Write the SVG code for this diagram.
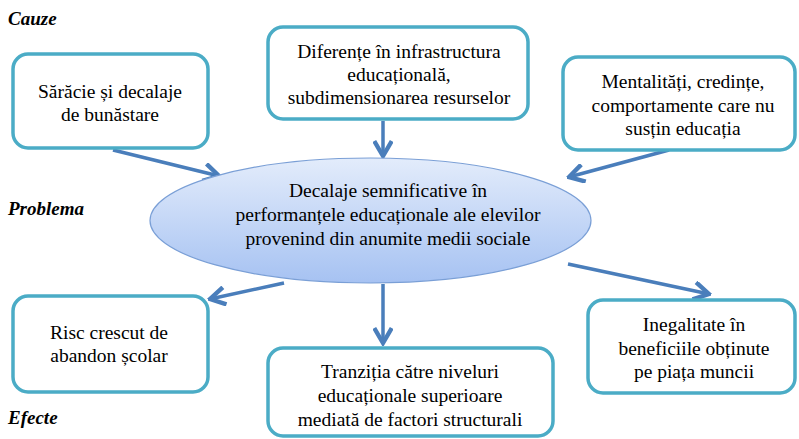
<svg xmlns="http://www.w3.org/2000/svg" width="799" height="439" viewBox="0 0 799 439" font-family="Liberation Serif, Times New Roman, Times, DejaVu Serif, serif">
<style>
.box{fill:#fff;stroke:#4bacc6;stroke-width:3.5}
.t{font-size:19.5px;fill:#000;text-anchor:middle}
.lab{font-size:19px;font-weight:bold;font-style:italic;fill:#000}
.con{stroke:#4a7ebb;stroke-width:3.5;fill:none;marker-end:url(#ah)}
</style>
<defs>
<marker id="ah" markerUnits="userSpaceOnUse" markerWidth="20" markerHeight="20" viewBox="-14 -8 16 16" refX="0" refY="0" orient="auto">
<polyline points="-12,-7 0,0 -12,7" fill="none" stroke="#4a7ebb" stroke-width="3.5" stroke-linejoin="miter"/>
</marker>
<linearGradient id="eg" x1="0" y1="0" x2="0" y2="1">
<stop offset="0" stop-color="#e3ecfb"/>
<stop offset="1" stop-color="#a6c2f2"/>
</linearGradient>
</defs>
<text class="lab" x="8" y="25" font-family="Liberation Serif, serif">Cauze</text>
<text class="lab" x="8" y="215" font-family="Liberation Serif, serif">Problema</text>
<text class="lab" x="8" y="424" font-family="Liberation Serif, serif">Efecte</text>
<g id="connectors">
<line class="con" x1="113" y1="150" x2="219" y2="176"/>
<line class="con" x1="383" y1="121" x2="383" y2="156"/>
<line class="con" x1="669" y1="150" x2="569" y2="177"/>
<line class="con" x1="284" y1="283" x2="210" y2="299"/>
<line class="con" x1="383" y1="284" x2="383" y2="343"/>
<line class="con" x1="568" y1="264" x2="709" y2="294"/>
</g>
<g id="problem">
<ellipse cx="370.5" cy="220.5" rx="220.5" ry="62.5" fill="url(#eg)" stroke="#7a9fd6" stroke-width="1.2"/>
<text class="t" x="388" y="197">Decalaje semnificative în</text>
<text class="t" x="388" y="221">performanțele educaționale ale elevilor</text>
<text class="t" x="388" y="245">provenind din anumite medii sociale</text>
</g>
<g id="cause1">
<rect class="box" x="13" y="54" width="195" height="94" rx="15"/>
<text class="t" x="110" y="98">Sărăcie și decalaje</text>
<text class="t" x="110" y="121">de bunăstare</text>
</g>
<g id="cause2">
<rect class="box" x="268" y="27" width="260" height="92" rx="15"/>
<text class="t" x="399" y="58">Diferențe în infrastructura</text>
<text class="t" x="399" y="81">educațională,</text>
<text class="t" x="399" y="104">subdimensionarea resurselor</text>
</g>
<g id="cause3">
<rect class="box" x="563" y="57" width="232" height="93" rx="15"/>
<text class="t" x="683" y="88">Mentalități, credințe,</text>
<text class="t" x="683" y="112">comportamente care nu</text>
<text class="t" x="683" y="135">susțin educația</text>
</g>
<g id="effect1">
<rect class="box" x="13" y="296" width="195" height="96" rx="15"/>
<text class="t" x="109" y="339">Risc crescut de</text>
<text class="t" x="109" y="362">abandon școlar</text>
</g>
<g id="effect2">
<rect class="box" x="268" y="348" width="285" height="88" rx="15"/>
<text class="t" x="410" y="378">Tranziția  către niveluri</text>
<text class="t" x="410" y="402">educaționale superioare</text>
<text class="t" x="410" y="426">mediată de factori structurali</text>
</g>
<g id="effect3">
<rect class="box" x="588" y="300" width="207" height="93" rx="15"/>
<text class="t" x="694" y="331">Inegalitate în</text>
<text class="t" x="694" y="355">beneficiile  obținute</text>
<text class="t" x="694" y="378">pe piața muncii</text>
</g>
</svg>
